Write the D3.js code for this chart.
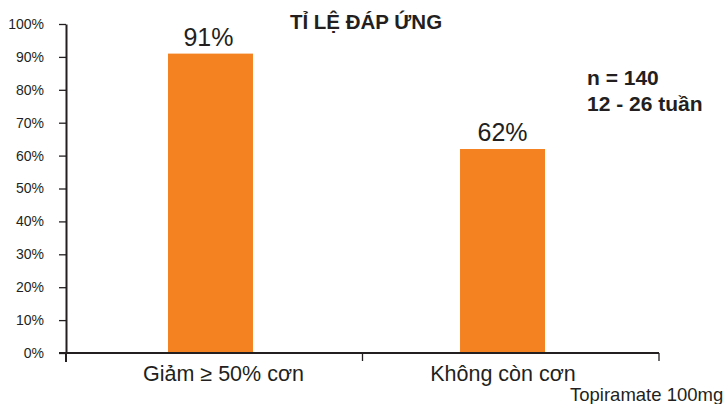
<!DOCTYPE html>
<html>
<head>
<meta charset="utf-8">
<script src="https://cdn.jsdelivr.net/npm/d3@7"></script>
<style>
  body { margin: 0; background: #fff; }
  text { font-family: "Liberation Sans", Arial, sans-serif; fill: #231f20; }
</style>
</head>
<body>
<div id="chart"></div>
<script>
const categories = ["Giảm ≥ 50% cơn", "Không còn cơn"];
const values = [91, 62];
const valueLabels = ["91%", "62%"];
const yTicks = [0, 10, 20, 30, 40, 50, 60, 70, 80, 90, 100];

const width = 723, height = 404,
  margin = ({ top: 24, right: 64, bottom: 51, left: 66 });

const svg = d3.select("#chart")
  .append("svg")
  .attr("width", width)
  .attr("height", height);

// axis band (tick marks at band edges)
let x = d3.scaleBand()
  .domain(categories)
  .range([margin.left, width - margin.right])
  .padding(0);

// bars are narrower and sit slightly left of band centres
let xBar = d3.scaleBand()
  .domain(categories)
  .range([168, 545])
  .paddingInner(0.709)
  .paddingOuter(0);

let y = d3.scaleLinear()
  .domain([0, 100])
  .range([height - margin.bottom, margin.top]);

// bars
svg.selectAll("rect.bar")
  .data(values)
  .join("rect")
  .attr("class", "bar")
  .attr("x", (d, i) => xBar(categories[i]))
  .attr("width", xBar.bandwidth())
  .attr("y", d => y(d))
  .attr("height", d => y(0) - y(d))
  .attr("fill", "#f58220");

// y axis
const yAxis = svg.append("g")
  .attr("transform", `translate(${margin.left},0)`)
  .call(d3.axisLeft(y)
    .tickValues(yTicks)
    .tickFormat(d => d + "%")
    .tickSize(7)
    .tickSizeOuter(0)
    .tickPadding(15));
yAxis.select(".domain").attr("stroke", "#231f20").attr("stroke-width", 2);
yAxis.selectAll(".tick line").attr("stroke", "#231f20").attr("stroke-width", 1.3);
yAxis.selectAll(".tick text").attr("font-size", 14).attr("fill", "#231f20");

// x axis
const xAxis = svg.append("g")
  .attr("transform", `translate(0,${y(0)})`);
xAxis.append("line")
  .attr("x1", margin.left - 7)
  .attr("x2", width - margin.right)
  .attr("stroke", "#231f20")
  .attr("stroke-width", 2);
const edges = [margin.left, x(categories[1]), width - margin.right];
xAxis.selectAll("line.edge")
  .data(edges)
  .join("line")
  .attr("class", "edge")
  .attr("x1", d => d).attr("x2", d => d)
  .attr("y1", 0).attr("y2", (d, i) => i === 0 ? 9 : 8)
  .attr("stroke", "#231f20")
  .attr("stroke-width", (d, i) => i === 0 ? 2 : 1.3);

xAxis.selectAll("text.cat")
  .data(categories)
  .join("text")
  .attr("class", "cat")
  .attr("x", (d, i) => i === 0 ? xBar(d) + xBar.bandwidth() / 2 + 13 : xBar(d) + xBar.bandwidth() / 2 + 0.5)
  .attr("y", 28)
  .attr("text-anchor", "middle")
  .attr("font-size", 21.5)
  .text(d => d);

// value labels
svg.selectAll("text.val")
  .data(values)
  .join("text")
  .attr("class", "val")
  .attr("x", (d, i) => xBar(categories[i]) + xBar.bandwidth() / 2 - (i === 0 ? 2 : 0))
  .attr("y", d => y(d) - 8)
  .attr("text-anchor", "middle")
  .attr("font-size", 25)
  .text((d, i) => valueLabels[i]);

// title
svg.append("text")
  .attr("x", 366)
  .attr("y", 29)
  .attr("text-anchor", "middle")
  .attr("font-size", 20.5)
  .attr("font-weight", "bold")
  .text("TỈ LỆ ĐÁP ỨNG");

// annotation
svg.append("text")
  .attr("x", 587)
  .attr("y", 85)
  .attr("font-size", 21)
  .attr("font-weight", "bold")
  .text("n = 140");
svg.append("text")
  .attr("x", 587)
  .attr("y", 111)
  .attr("font-size", 21)
  .attr("font-weight", "bold")
  .text("12 - 26 tuần");

svg.append("text")
  .attr("x", 570)
  .attr("y", 401)
  .attr("font-size", 18.5)
  .text("Topiramate 100mg");
</script>
</body>
</html>
